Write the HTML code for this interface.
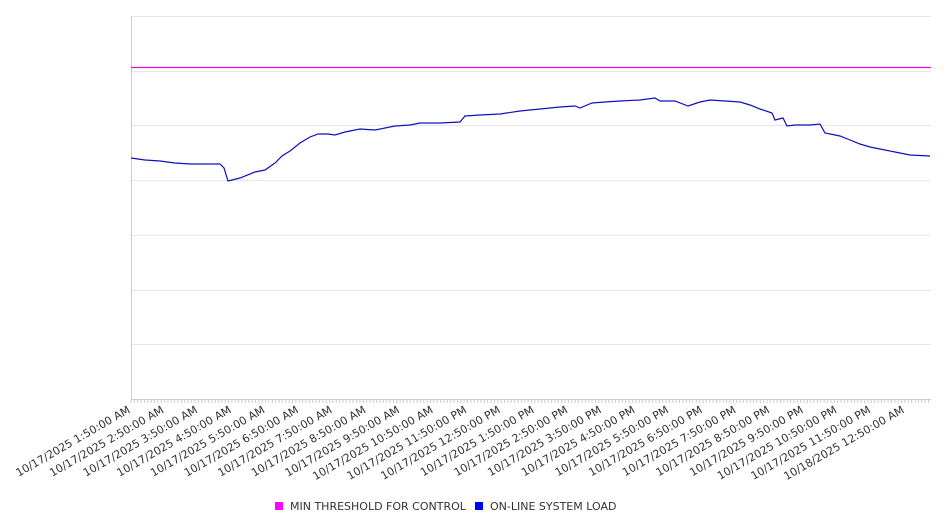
<!DOCTYPE html>
<html><head><style>
body{margin:0;background:#fff;}
svg{display:block;font-family:"DejaVu Sans","Liberation Sans",sans-serif;}
</style></head><body>
<svg width="946" height="526" xmlns="http://www.w3.org/2000/svg">
<g stroke="#e6e6e6" stroke-width="1">
<line x1="131" y1="16.5" x2="931" y2="16.5"/>
<line x1="131" y1="71.5" x2="931" y2="71.5"/>
<line x1="131" y1="125.5" x2="931" y2="125.5"/>
<line x1="131" y1="180.5" x2="931" y2="180.5"/>
<line x1="131" y1="235.5" x2="931" y2="235.5"/>
<line x1="131" y1="290.5" x2="931" y2="290.5"/>
<line x1="131" y1="344.5" x2="931" y2="344.5"/>
</g>
<line x1="131.5" y1="16" x2="131.5" y2="400" stroke="#ccc"/>
<line x1="131" y1="399.5" x2="931" y2="399.5" stroke="#ccc"/>
<g id="ticks" stroke="#ccc"></g>
<line x1="131" y1="67.5" x2="931" y2="67.5" stroke="#e010e0" stroke-width="1.2"/>
<polyline fill="none" stroke="#1010c0" stroke-width="1.2" points="131,158 145,160 160,161 175,163 190,164 220,164 224,168 228,181 240,178 255,172 265,170 275,163 282,156 290,151 300,143 310,137 318,134 328,134 335,135 345,132 360,129 375,130 385,128 395,126 410,125 420,123 440,123 460,122 465,116 480,115 500,114 520,111 540,109 560,107 575,106 580,108 592,103 605,102 620,101 640,100 655,98 660,101 675,101 688,106 700,102 710,100 725,101 740,102 750,105 760,109 772,113 775,120 783,118 787,126 795,125 810,125 820,124 825,133 840,136 850,140 860,144 870,147 880,149 895,152 910,155 930,156"/>
<g id="labels" font-size="11" fill="#333" text-anchor="end"></g>
<rect x="275" y="502" width="8" height="8" fill="#ff00ff"/>
<text x="290" y="510" font-size="11" fill="#333">MIN THRESHOLD FOR CONTROL</text>
<rect x="475" y="502" width="8" height="8" fill="#0000ff"/>
<text x="490" y="510" font-size="11" fill="#333">ON-LINE SYSTEM LOAD</text>
<script>
var t=document.getElementById('ticks'),l=document.getElementById('labels'),ns='http://www.w3.org/2000/svg';
for(var x=131;x<=931;x+=3.365){var e=document.createElementNS(ns,'line');e.setAttribute('x1',x);e.setAttribute('x2',x);e.setAttribute('y1',400);e.setAttribute('y2',403);t.appendChild(e);}
var hrs=['1','2','3','4','5','6','7','8','9','10','11','12','1','2','3','4','5','6','7','8','9','10','11','12'];
for(var i=0;i<24;i++){var x=131+i*33.65;var ap=(i<10||i==23)?'AM':'PM';var d=i==23?'10/18/2025':'10/17/2025';
var e=document.createElementNS(ns,'text');e.setAttribute('transform','translate('+x+',412) rotate(-30)');e.textContent=d+' '+hrs[i]+':50:00 '+ap;l.appendChild(e);}
</script>
</svg>
</body></html>
